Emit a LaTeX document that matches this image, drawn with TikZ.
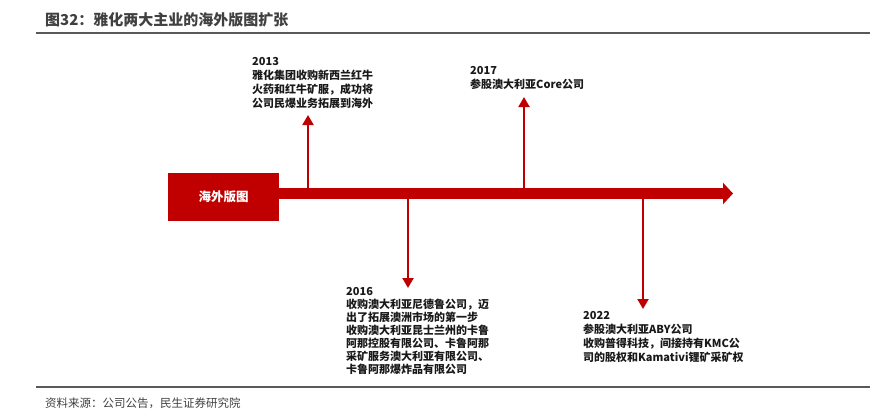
\documentclass[tikz,border=0pt]{standalone}
\usepackage{fontspec}
\setmainfont{Noto Sans CJK SC}
\usetikzlibrary{arrows.meta,positioning}
\definecolor{deepred}{HTML}{C00000}
\definecolor{titlegray}{HTML}{404040}
\definecolor{rulegray}{HTML}{595959}

\begin{document}
\begin{tikzpicture}[
  x=1pt, y=-1pt,
  headline/.style={anchor=west, inner sep=0pt, text=titlegray, font=\fontsize{15}{18}\selectfont\bfseries},
  srcline/.style={anchor=west, inner sep=0pt, text=titlegray, font=\fontsize{11.5}{14}\selectfont},
  rulebar/.style={draw=rulegray, line width=1.5pt},
  region/.style={fill=deepred, minimum width=111pt, minimum height=48pt, inner sep=0pt, text=white, font=\fontsize{12.5}{15}\selectfont\bfseries},
  event/.style={anchor=north west, inner sep=0pt, align=left, text=black!90, font=\fontsize{11}{14}\selectfont\bfseries},
  timeline/.style={-{Triangle[length=10pt,width=21pt]}, line width=11pt, draw=deepred},
  pin/.style={-{Triangle[length=10pt,width=11pt]}, line width=2pt, draw=deepred}
]
\useasboundingbox (0,0) rectangle (877,418);

\node[headline] (title) at (45,20) {图32：雅化两大主业的海外版图扩张};
\draw[rulebar] (36,33) -- (870,33);
\draw[rulebar] (36,387) -- (870,387);
\node[srcline] (source) at (45,403) {资料来源：公司公告，民生证券研究院};

\node[event] (e2013) at (252,57) {2013\\雅化集团收购新西兰红牛\\火药和红牛矿服，成功将\\公司民爆业务拓展到海外};
\node[event] (e2017) at (470,66) {2017\\参股澳大利亚Core公司};
\node[event, font=\fontsize{11}{13}\selectfont\bfseries] (e2016) at (346,287) {2016\\收购澳大利亚尼德鲁公司，迈\\出了拓展澳洲市场的第一步\\收购澳大利亚昆士兰州的卡鲁\\阿那控股有限公司、卡鲁阿那\\采矿服务澳大利亚有限公司、\\卡鲁阿那爆炸品有限公司};
\node[event] (e2022) at (583,311) {2022\\参股澳大利亚ABY公司\\收购普得科技，间接持有KMC公\\司的股权和Kamativi锂矿采矿权};

\coordinate (s2013) at (308,193.5);
\coordinate (s2016) at (408,193.5);
\coordinate (s2017) at (524,193.5);
\coordinate (s2022) at (643,193.5);
\coordinate (t2013) at (308,115);
\coordinate (t2016) at (408,288);
\coordinate (t2017) at (524,97);
\coordinate (t2022) at (643,309);
\coordinate (end) at (733,193.5);

\draw[pin] (s2013) -- (t2013);
\draw[pin] (s2016) -- (t2016);
\draw[pin] (s2017) -- (t2017);
\draw[pin] (s2022) -- (t2022);

\node[region] (overseas) at (223.5,197) {海外版图};
\draw[timeline] (overseas.east |- end) -- (end);
\end{tikzpicture}
\end{document}
